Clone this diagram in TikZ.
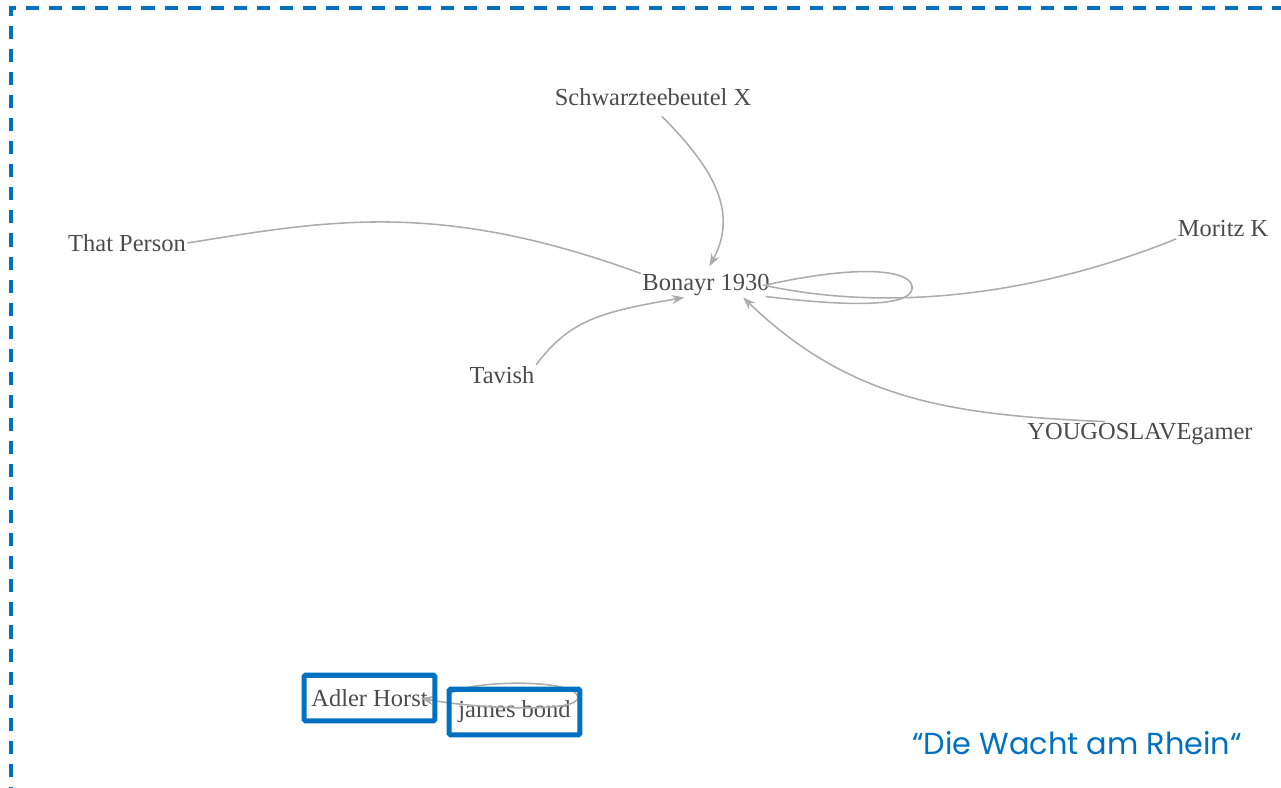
\documentclass[tikz,border=0pt]{standalone}
\usepackage{fontspec}
\setmainfont{Liberation Serif}
\newfontfamily\titlefont{Poppins}
\usetikzlibrary{arrows.meta}
\definecolor{edgegray}{RGB}{172, 172, 172}
\definecolor{namegray}{RGB}{75, 75, 75}
\definecolor{frameblue}{RGB}{0, 112, 192}
\tikzset{
    person/.style={text=namegray, font=\fontsize{17.4}{20}\selectfont,
        inner sep=1pt},
    link/.style={edgegray, line width=1.1pt},
    tip/.style={-{Stealth[length=9pt, width=6.5pt]}},
    marked/.style={minimum width=92.5pt, minimum height=32pt},
    highlight/.style={draw=frameblue, line width=3.6pt, rounded corners=1pt},
}

\begin{document}
\begin{tikzpicture}[x=.025cm, y=-.025cm]
    \useasboundingbox (0, 0) rectangle (1281, 788);
    % dashed frame, cut off at right and bottom
    \draw[frameblue, line width=2.2pt, dash pattern=on 9.3pt off 7.1pt]
        (11, 800) -- (11, 8) -- (1290, 8);

    \node[person] (schwarz) at (653, 97) {Schwarzteebeutel X};
    \node[person] (tperson) at (127, 243) {That Person};
    \node[person] (moritz) at (1223, 229) {Moritz K};
    \node[person] (bonayr) at (706, 285) {Bonayr 1930};
    \node[person] (tavish) at (502, 375) {Tavish};
    \node[person] (yougo) at (1140, 434) {YOUGOSLAVEgamer};
    \node[person, marked] (adler) at (369.5, 698) {Adler Horst};
    \node[person, marked] (jbond) at (514.5, 712) {james bond};

    \draw[link, tip, shorten <=9pt, shorten >=5pt] (schwarz.south)
        .. controls (710, 165) and (740, 210) .. (bonayr.north);
    \draw[link] (tperson.east) .. controls (330, 220) and (440, 200)
        .. (bonayr.170);
    \draw[link] (moritz.south west) .. controls (1050, 290) and (900, 315)
        .. ([xshift=-6pt]bonayr.east);
    \draw[link] ([xshift=-4pt]bonayr.east) .. controls (870, 262)
        and (915, 272) .. (912, 289) .. controls (910, 305) and (860, 308)
        .. ([xshift=-4pt]bonayr.-10);
    \draw[link, tip] (tavish.north east) .. controls (570, 320) and (600, 312)
        .. (bonayr.-150);
    \draw[link, tip] ([xshift=-25pt]yougo.north) .. controls (950, 415)
        and (850, 400) .. ([xshift=-20pt]bonayr.south east);
    % the loop ends inside the left frame
    \draw[link, tip] (jbond.165) .. controls (465, 680)
        and (575, 678) .. (578, 697) .. controls (580, 714) and (470, 708)
        .. ([xshift=-10pt]adler.east);

    \foreach \n in {adler, jbond}
        \draw[highlight] (\n.south west) rectangle (\n.north east);

    \node[text=frameblue, font=\titlefont\fontsize{21.6}{26}\selectfont]
        (motto) at (1077, 743) {“Die Wacht am Rhein“};
\end{tikzpicture}
\end{document}
